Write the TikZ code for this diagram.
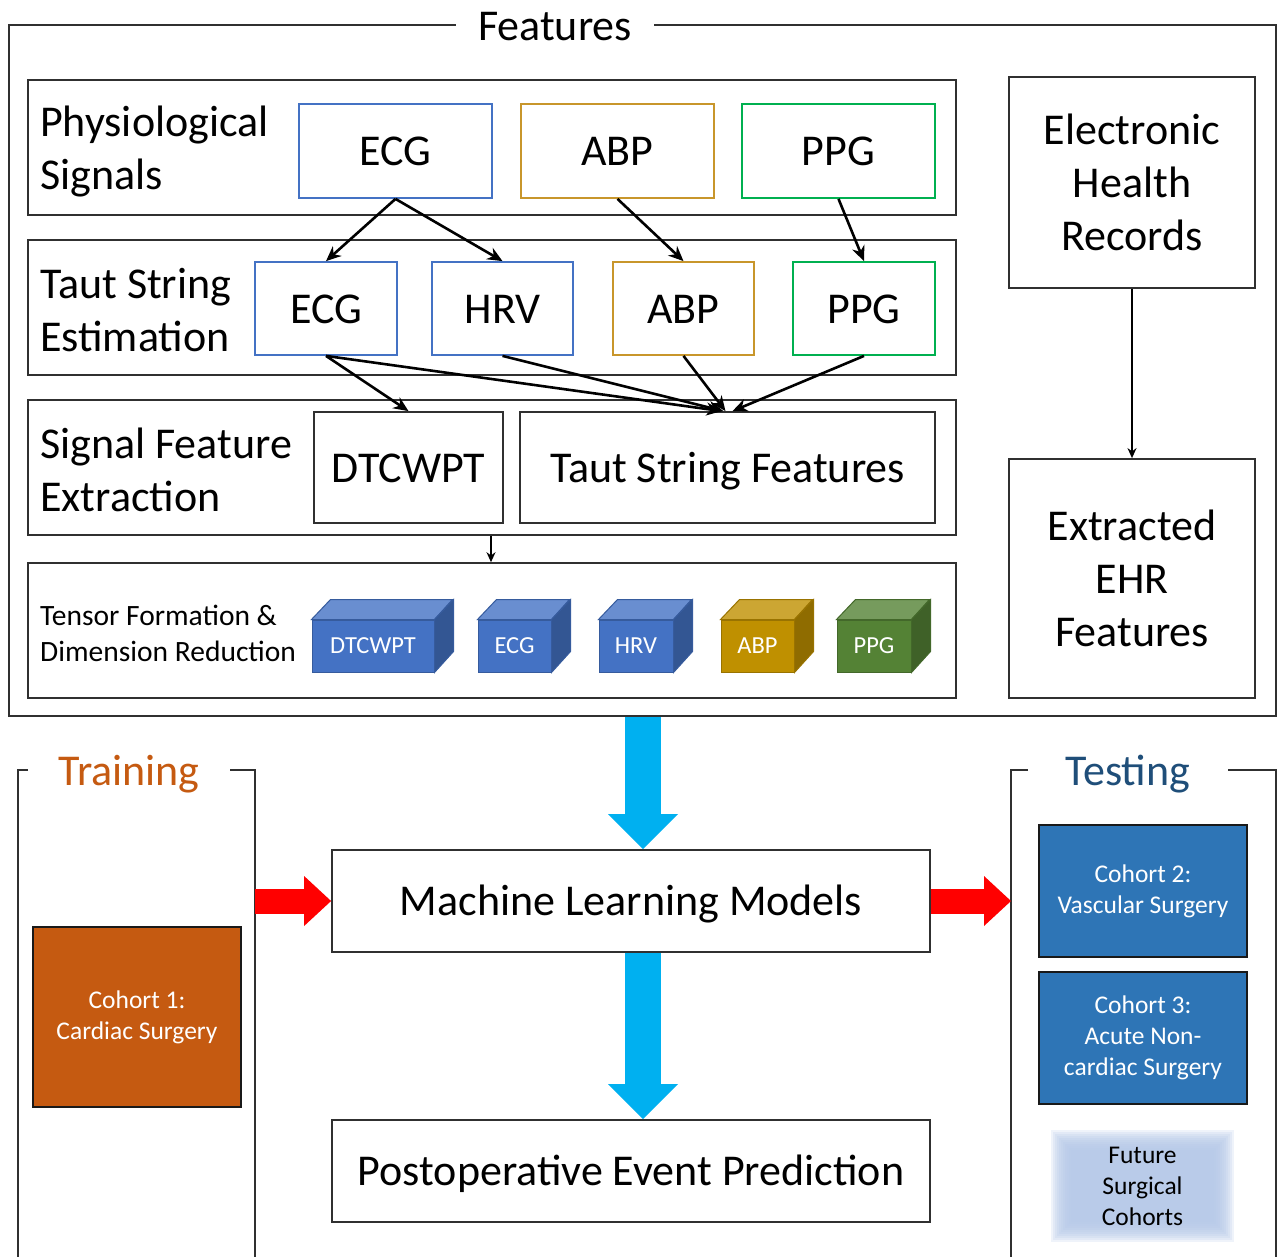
\documentclass[tikz,border=0pt]{standalone}
\usepackage{fontspec}
\setmainfont{Carlito}
\usetikzlibrary{arrows.meta}

\definecolor{framegray}{HTML}{303030}
\definecolor{ecgblue}{HTML}{4472C4}
\definecolor{abpgold}{HTML}{C8962B}
\definecolor{ppggreen}{HTML}{00B050}
\definecolor{cubegold}{HTML}{BF9000}
\definecolor{cubegreen}{HTML}{548235}
\definecolor{flowcyan}{HTML}{00B0F0}
\definecolor{trainorange}{HTML}{C55A11}
\definecolor{testnavy}{HTML}{1F4E79}
\definecolor{testblue}{HTML}{2E75B6}
\definecolor{futureblue}{HTML}{B4C7E7}

\begin{document}
\begin{tikzpicture}[x=1pt, y=-1pt,
  big/.style={font=\fontsize{44}{53}\selectfont},
  mid/.style={font=\fontsize{29.5}{36}\selectfont},
  small/.style={font=\fontsize{25.5}{31}\selectfont},
  band/.style={draw=framegray, line width=1.6pt, inner sep=0pt},
  sig/.style={band, big, line width=1.8pt},
  oneline/.style={text height=29pt, text depth=0pt},
  lbl/.style={big, anchor=west, align=left, inner sep=0pt},
  cube/.style={font=\fontsize{24.5}{29}\selectfont, text=white, draw=\col!80!black,
               line width=1pt, minimum height=52pt, inner sep=0pt},
  cohort/.style={small, text=white, align=center, draw=black!90, line width=1.8pt,
                 minimum width=208pt, inner sep=0pt},
  arrow/.style={-{Stealth[length=15pt,width=13pt]}, line width=2.6pt},
  thinarrow/.style={-{Stealth[length=10pt,width=9pt]}, line width=1.8pt},
  bigarrow/.style={flowcyan, line width=36pt, -{Triangle[length=35pt,width=70pt,line width=0pt]}},
  redarrow/.style={red, line width=25pt, -{Triangle[length=27pt,width=50pt,line width=0pt]}}
]
\useasboundingbox (0,0) rectangle (1282,1256);

% feature extraction frame
\node[band, minimum width=1267pt, minimum height=691pt] (feat) at (642.5,370.5) {};
\node[big, anchor=base, fill=white, inner xsep=22pt, inner ysep=2pt] (feattitle) at (555,40) {Features};

\node[band, minimum width=928pt, minimum height=135pt] (row1) at (492,147.5) {};
\node[band, minimum width=928pt, minimum height=135pt] (row2) at (492,307.5) {};
\node[band, minimum width=928pt, minimum height=135pt] (row3) at (492,467.5) {};
\node[band, minimum width=928pt, minimum height=135pt] (row4) at (492,630.5) {};

\node[lbl] (physlbl) at (40,152) {Physiological\\Signals};
\node[lbl] (tautlbl) at (40,310) {Taut String\\Estimation};
\node[lbl] (extrlbl) at (40,470) {Signal Feature\\Extraction};
\node[lbl, mid] (tenslbl) at (40,633) {Tensor Formation \&\\Dimension Reduction};

% raw signals
\node[sig, oneline, draw=ecgblue, minimum width=193pt, minimum height=94pt] (ecg) at (395.5,151) {ECG};
\node[sig, oneline, draw=abpgold, minimum width=193pt, minimum height=94pt] (abp) at (617.5,151) {ABP};
\node[sig, oneline, draw=ppggreen, minimum width=193pt, minimum height=94pt] (ppg) at (838.5,151) {PPG};

% taut string estimates
\node[sig, oneline, draw=ecgblue, minimum width=142pt, minimum height=93pt] (ecgts) at (326,308.5) {ECG};
\node[sig, oneline, draw=ecgblue, minimum width=141pt, minimum height=93pt] (hrvts) at (502.5,308.5) {HRV};
\node[sig, oneline, draw=abpgold, minimum width=141pt, minimum height=93pt] (abpts) at (683.5,308.5) {ABP};
\node[sig, oneline, draw=ppggreen, minimum width=142pt, minimum height=93pt] (ppgts) at (864,308.5) {PPG};

% extracted features
\node[sig, oneline, minimum width=189pt, minimum height=111pt] (dtc) at (408.5,467.5) {DTCWPT};
\node[sig, oneline, minimum width=415pt, minimum height=111pt] (tsf) at (727.5,467.5) {Taut String Features};

% tensor slices
\foreach \cx/\cw/\txt/\col [count=\i] in {373/122/DTCWPT/ecgblue, 514.5/73/ECG/ecgblue,
    636/74/HRV/ecgblue, 757.5/73/ABP/cubegold, 874/74/PPG/cubegreen} {
  \node[cube, fill=\col, minimum width=\cw pt] (cube\i) at (\cx,646) {\txt};
  \filldraw[draw=\col!80!black, line width=1pt, fill=\col!80!white]
    (cube\i.north west) -- ++(19,-20) -- ++(\cw,0) -- (cube\i.north east) -- cycle;
  \filldraw[draw=\col!80!black, line width=1pt, fill=\col!75!black]
    (cube\i.north east) -- ++(19,-20) -- ++(0,52) -- (cube\i.south east) -- cycle;
}

% health records
\node[sig, align=center, minimum width=246pt, minimum height=211pt] (ehr) at (1132,182.5) {Electronic\\Health\\Records};
\node[sig, align=center, minimum width=246pt, minimum height=239pt] (ehrfeat) at (1132,578.5) {Extracted\\EHR\\Features};

\draw[arrow] (ecg.south) -- (ecgts.north);
\draw[arrow] (ecg.south) -- (hrvts.north);
\draw[arrow] (abp.south) -- (abpts.north);
\draw[arrow] (ppg.south) -- (ppgts.north);
\draw[arrow] (ecgts.south) -- (dtc.north);
\draw[arrow] (ecgts.south) -- ([xshift=-6pt]tsf.north);
\draw[arrow] (hrvts.south) -- ([xshift=-4pt]tsf.north);
\draw[arrow] (abpts.south) -- ([xshift=-2pt]tsf.north);
\draw[arrow] (ppgts.south) -- ([xshift=5pt]tsf.north);
\draw[thinarrow] (row3.south -| 491,0) -- (row4.north -| 491,0);
\draw[thinarrow] (ehr.south) -- (ehrfeat.north);

% models and outcome
\node[sig, oneline, minimum width=598pt, minimum height=102pt] (ml) at (631,901) {Machine Learning Models};
\node[sig, oneline, minimum width=598pt, minimum height=102pt] (post) at (631,1171) {Postoperative Event Prediction};

\draw[bigarrow] ([xshift=12pt]ml.north |- feat.south) -- ([xshift=12pt]ml.north);
\draw[bigarrow] ([xshift=12pt]ml.south) -- ([xshift=12pt]post.north);

% training cohort
\draw[framegray, line width=1.6pt] (28,770) -- (18,770) -- (18,1260);
\draw[framegray, line width=1.6pt] (230,770) -- (255,770) -- (255,1260);
\node[big, anchor=base, text=trainorange] (traintitle) at (129,785) {Training};
\node[cohort, fill=trainorange, minimum height=180pt] (cohort1) at (137,1017) {Cohort 1:\\Cardiac Surgery};

% testing cohorts
\draw[framegray, line width=1.6pt] (1028,770) -- (1011,770) -- (1011,1260);
\draw[framegray, line width=1.6pt] (1228,770) -- (1276,770) -- (1276,1260);
\node[big, anchor=base, text=testnavy] (testtitle) at (1128,785) {Testing};
\node[cohort, fill=testblue, minimum height=132pt] (cohort2) at (1143,891) {Cohort 2:\\Vascular Surgery};
\node[cohort, fill=testblue, minimum height=132pt] (cohort3) at (1143,1038) {Cohort 3:\\Acute Non-\\cardiac Surgery};

\node[minimum width=163pt, minimum height=92pt, inner sep=0pt] (future) at (1142.5,1186) {};
\foreach \d in {10,8,...,-10}
  \fill[futureblue, fill opacity=0.22] ([xshift=-\d pt, yshift=\d pt]future.north west)
    rectangle ([xshift=\d pt, yshift=-\d pt]future.south east);
\node[small, align=center] (futurelbl) at (future) {Future\\Surgical\\Cohorts};

\coordinate (trainedge) at (255,901);
\coordinate (testedge) at (1011,901);
\draw[redarrow] (trainedge) -- (ml.west);
\draw[redarrow] (ml.east) -- (testedge);
\end{tikzpicture}
\end{document}
